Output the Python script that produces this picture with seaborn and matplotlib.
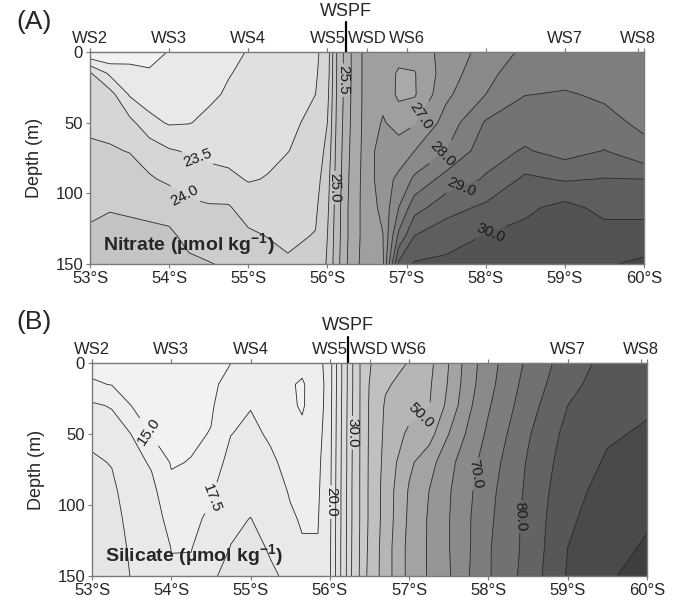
import numpy as np
import matplotlib
matplotlib.use("Agg")
import matplotlib.pyplot as plt
import seaborn as sns

# depth levels of every column (m)
depths = [0, 15, 30, 50, 70, 90, 110, 130, 150]

# nitrate section: one column per latitude, values from surface to 150 m
no3_lats = [53.0, 53.25, 53.5, 53.75, 54.0, 54.25, 54.5, 54.75, 55.0, 55.25,
            55.5, 55.85, 56.0, 56.1, 56.2, 56.3, 56.45, 56.7, 56.9, 57.1,
            57.5, 58.0, 58.5, 59.0, 59.5, 60.0]
no3_cols = [
    [22.0, 23.55, 23.7, 23.93, 24.06, 24.25, 24.43, 24.56, 24.6],
    [22.0, 22.9, 23.7, 23.85, 24.05, 24.3, 24.48, 24.6, 24.65],
    [22.3, 22.65, 22.95, 23.65, 23.98, 24.25, 24.45, 24.6, 24.65],
    [22.35, 22.55, 22.75, 23.15, 23.8, 24.05, 24.4, 24.6, 24.65],
    [22.52, 22.6, 22.75, 22.95, 23.55, 23.92, 24.3, 24.6, 24.65],
    [22.62, 22.7, 22.8, 22.98, 23.45, 23.8, 24.1, 24.35, 24.6],
    [22.75, 22.82, 22.92, 23.1, 23.37, 23.68, 24.05, 24.3, 24.52],
    [22.9, 22.98, 23.05, 23.18, 23.35, 23.6, 24.05, 24.2, 24.45],
    [23.02, 23.08, 23.15, 23.25, 23.35, 23.47, 23.75, 24.1, 24.35],
    [23.15, 23.2, 23.27, 23.35, 23.42, 23.52, 23.7, 23.98, 24.2],
    [23.25, 23.3, 23.37, 23.43, 23.49, 23.65, 23.8, 23.92, 24.05],
    [23.42, 23.45, 23.5, 23.58, 23.68, 23.8, 23.92, 24.02, 24.15],
    [23.7, 23.75, 23.85, 24.0, 24.15, 24.3, 24.4, 24.5, 24.55],
    [24.9, 24.9, 24.92, 24.95, 25.0, 25.05, 25.1, 25.15, 25.2],
    [25.5, 25.5, 25.5, 25.55, 25.6, 25.65, 25.7, 25.7, 25.75],
    [26.0, 26.0, 26.02, 26.05, 26.1, 26.15, 26.2, 26.2, 26.25],
    [26.55, 26.55, 26.55, 26.56, 26.58, 26.6, 26.6, 26.6, 26.62],
    [26.7, 26.72, 26.85, 27.05, 27.3, 27.3, 27.15, 26.98, 26.9],
    [26.65, 26.45, 26.4, 26.8, 27.25, 27.6, 28.0, 28.6, 29.6],
    [26.75, 26.47, 26.45, 26.95, 27.5, 28.1, 28.8, 29.5, 30.05],
    [27.15, 27.25, 27.4, 27.7, 28.0, 28.7, 29.3, 29.8, 30.1],
    [27.7, 27.85, 28.0, 28.55, 28.8, 29.05, 29.6, 30.02, 30.15],
    [28.1, 28.3, 28.49, 28.75, 29.05, 29.6, 29.9, 30.15, 30.25],
    [28.25, 28.38, 28.53, 28.75, 28.8, 29.45, 30.15, 30.3, 30.35],
    [28.3, 28.38, 28.45, 28.6, 29.02, 29.52, 29.85, 30.2, 30.45],
    [28.3, 28.33, 28.37, 28.43, 28.6, 29.5, 29.85, 30.2, 30.6],
]
no3_levels = [21.5, 22.0, 22.5, 23.0, 23.5, 24.0, 24.5, 25.0, 25.5, 26.0, 26.5,
              27.0, 27.5, 28.0, 28.5, 29.0, 29.5, 30.0, 30.5, 31.0]
no3_labelled = [23.5, 24.0, 25.0, 25.5, 27.0, 28.0, 29.0, 30.0]

# silicate section
si_lats = [53.0, 53.25, 53.5, 53.75, 54.0, 54.25, 54.5, 54.75, 55.0, 55.25,
           55.5, 55.65, 55.85, 56.0, 56.1, 56.2, 56.3, 56.45, 56.7, 57.0,
           57.25, 57.5, 57.75, 58.0, 58.5, 59.0, 59.5, 60.0]
si_cols = [
    [14.2, 15.3, 17.9, 19.5, 20.3, 20.7, 21.0, 21.2, 21.3],
    [14.0, 14.9, 17.3, 18.8, 19.9, 20.4, 20.7, 20.9, 21.0],
    [13.8, 14.3, 14.95, 17.45, 18.4, 19.0, 19.4, 19.7, 19.9],
    [13.5, 13.8, 14.3, 14.9, 17.2, 18.2, 18.8, 19.1, 19.3],
    [13.2, 13.3, 13.6, 14.2, 14.8, 15.6, 16.6, 17.45, 17.7],
    [13.6, 13.8, 14.1, 14.6, 15.1, 16.0, 16.9, 17.4, 18.0],
    [14.3, 14.5, 14.7, 15.1, 16.2, 17.2, 18.0, 19.0, 19.7],
    [14.98, 15.8, 16.6, 17.45, 18.3, 19.0, 19.6, 20.05, 20.6],
    [15.3, 16.3, 17.4, 18.0, 18.6, 19.3, 20.05, 20.6, 21.0],
    [15.6, 15.9, 16.5, 17.2, 17.9, 18.6, 19.2, 19.8, 20.3],
    [15.5, 15.15, 15.3, 16.4, 16.8, 17.3, 17.8, 18.6, 19.6],
    [15.5, 14.8, 14.8, 15.4, 16.2, 16.8, 17.3, 17.7, 18.0],
    [16.5, 16.0, 16.1, 16.6, 17.0, 17.2, 17.4, 17.6, 17.8],
    [19.0, 19.0, 19.1, 19.2, 19.3, 19.4, 19.5, 19.6, 19.7],
    [23.2, 23.2, 23.3, 23.4, 23.5, 23.6, 23.6, 23.7, 23.7],
    [26.8, 26.8, 26.9, 27.0, 27.0, 27.1, 27.1, 27.2, 27.2],
    [30.4, 30.4, 30.5, 30.6, 30.7, 30.8, 30.8, 30.9, 31.0],
    [39.0, 39.0, 39.0, 39.0, 39.0, 39.0, 39.0, 39.2, 39.5],
    [42.5, 44.5, 45.5, 46.0, 46.5, 47.0, 47.0, 47.5, 47.5],
    [45.3, 46.5, 48.0, 51.0, 54.0, 55.5, 56.0, 56.5, 56.5],
    [48.5, 49.2, 49.7, 53.0, 58.0, 60.0, 60.5, 60.5, 60.5],
    [55.0, 55.5, 56.5, 60.0, 63.5, 64.5, 64.8, 64.8, 64.5],
    [62.5, 63.0, 64.0, 66.0, 68.0, 69.0, 69.5, 69.5, 69.8],
    [68.0, 68.5, 69.5, 71.0, 72.5, 73.5, 74.0, 74.5, 74.5],
    [76.0, 77.0, 78.0, 79.5, 80.5, 81.0, 81.5, 81.5, 82.0],
    [82.5, 83.5, 85.0, 86.5, 87.5, 88.5, 89.2, 90.0, 90.5],
    [86.5, 87.5, 88.5, 89.5, 90.5, 91.5, 92.5, 93.5, 94.5],
    [88.0, 88.8, 89.5, 90.5, 91.5, 92.5, 94.5, 95.5, 96.5],
]
si_levels = [10.0, 12.5, 15.0, 17.5, 20.0, 22.5, 25.0, 27.5, 30.0, 35.0, 40.0,
             45.0, 50.0, 55.0, 60.0, 65.0, 70.0, 75.0, 80.0, 85.0, 90.0, 95.0, 100.0]
si_labelled = [15.0, 17.5, 20.0, 30.0, 50.0, 70.0, 80.0]

stations = ["WS2", "WS3", "WS4", "WS5", "WSD", "WS6", "WS7", "WS8"]
station_lats = [53.0, 54.0, 55.0, 56.0, 56.5, 57.0, 59.0, 59.92]
wspf_lat = 56.23

lat_ticks = [53, 54, 55, 56, 57, 58, 59, 60]
depth_ticks = [0, 50, 100, 150]

sns.set_style("ticks")
plt.rcParams["font.family"] = ["Liberation Sans", "DejaVu Sans"]
plt.rcParams["mathtext.fontset"] = "custom"
plt.rcParams["mathtext.rm"] = "Liberation Sans"
plt.rcParams["mathtext.bf"] = "Liberation Sans:bold"

edge = "#7a7a7a"
line_kw = dict(colors="#2b2b2b", linewidths=0.6)


def section(ax, lats, cols, levels, labelled, spots, name, wspf_y, shades, vrange):
    z = np.array(cols).T
    X, Y = np.meshgrid(lats, depths)
    greys = sns.blend_palette(shades, as_cmap=True)
    ax.contourf(X, Y, z, levels=levels, cmap=greys,
                vmin=vrange[0], vmax=vrange[1])
    plain = [v for v in levels if v not in labelled]
    ax.contour(X, Y, z, levels=plain, **line_kw)
    cs = ax.contour(X, Y, z, levels=labelled, **line_kw)
    ax.clabel(cs, manual=spots, fmt="%.1f", fontsize=11,
              inline_spacing=2, colors="#1a1a1a")

    ax.set_xlim(53, 60)
    ax.set_ylim(150, 0)
    ax.set_xticks(lat_ticks, [f"{v}°S" for v in lat_ticks])
    ax.set_yticks(depth_ticks)
    ax.tick_params(axis="both", labelsize=12, length=3, color=edge, pad=2)
    ax.tick_params(axis="x", top=True)
    ax.set_ylabel("Depth (m)", fontsize=13, labelpad=9)
    for s in ax.spines.values():
        s.set_color(edge)
        s.set_linewidth(1.0)

    top = ax.secondary_xaxis("top")
    top.set_xticks(station_lats, stations)
    top.tick_params(labelsize=12, length=3, color=edge, pad=1)
    top.spines["top"].set_color(edge)

    tr = ax.get_xaxis_transform()
    ax.plot([wspf_lat, wspf_lat], [1.0, wspf_y[0]], transform=tr,
            color="black", lw=1.6, clip_on=False)
    ax.text(wspf_lat, wspf_y[1], "WSPF", transform=tr, ha="center",
            va="center", fontsize=13)

    ax.text(53.16, 136, name, fontsize=14, fontweight="bold",
            ha="left", va="center")


fig = plt.figure(figsize=(6.75, 6.07), dpi=100)
ax_a = fig.add_axes([90 / 675, 1 - 264 / 607, 554 / 675, 212 / 607])
ax_b = fig.add_axes([92 / 675, 1 - 576 / 607, 555 / 675, 213 / 607])

section(ax_a, no3_lats, no3_cols, no3_levels, no3_labelled,
        [(54.35, 76), (54.2, 101), (56.06, 96), (56.2, 20),
         (57.18, 45), (57.43, 70), (57.68, 94), (58.06, 128)],
        r"Nitrate (µmol kg$^{\mathbf{-1}}$)", (1.14, 1.19),
        ["#f2f2f2", "#a4a4a4", "#484848"], (22.25, 30.75))
section(ax_b, si_lats, si_cols, si_levels, si_labelled,
        [(53.68, 50), (54.5, 95), (56.03, 98), (56.3, 49),
         (57.21, 41), (57.95, 79), (58.54, 109)],
        r"Silicate (µmol kg$^{\mathbf{-1}}$)", (1.12, 1.175),
        ["#f2f2f2", "#a8a8a8", "#3e3e3e"], (13.75, 97.5))

fig.text(34 / 675, 1 - 22 / 607, "(A)", fontsize=19, ha="center", va="center")
fig.text(34 / 675, 1 - 322 / 607, "(B)", fontsize=19, ha="center", va="center")

fig.savefig("out.png", dpi=100, facecolor="white")
